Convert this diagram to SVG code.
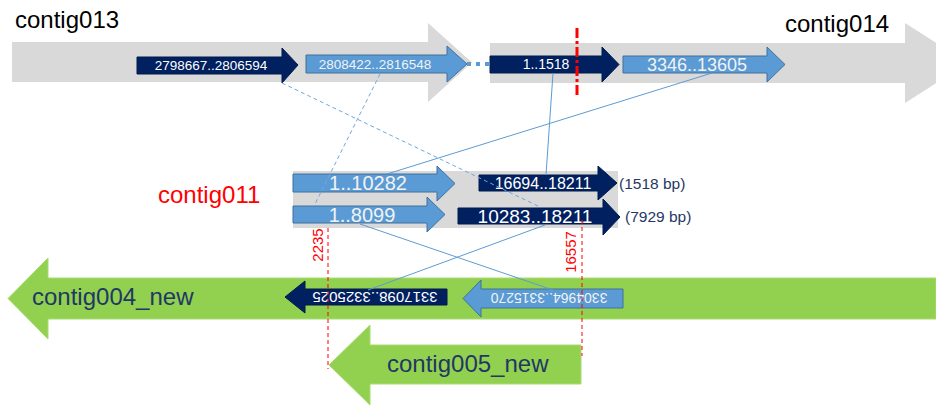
<svg xmlns="http://www.w3.org/2000/svg" width="936" height="406" viewBox="0 0 936 406">
  <style>
    .gray { fill: #d9d9d9; }
    .green { fill: #92d050; stroke: #a9dc72; stroke-width: 1; }
    .dark { fill: #002060; stroke: #001a4d; stroke-width: 1; }
    .light { fill: #5b9bd5; stroke: #41719c; stroke-width: 1; }
    .txt { font-family: "Liberation Sans", Arial, sans-serif; }
    .wt { fill: #ffffff; text-anchor: middle; }
    .lt { fill: #f2f2f2; text-anchor: middle; }
    .name { font-size: 24px; fill: #000000; }
    .navy { fill: #1f3864; }
    .link { stroke: #5b9bd5; stroke-width: 1; fill: none; }
    .dash { stroke: #6fa8dc; stroke-width: 1; fill: none; stroke-dasharray: 4 3; }
    .cut { stroke: #ff0000; stroke-width: 1; fill: none; stroke-dasharray: 4 3; }
  </style>

  <!-- contig013 -->
  <g id="contig013">
    <polygon class="gray" points="12,42 428,42 428,23 472,62.5 428,102 428,82 12,82"/>
    <text class="txt name" x="15" y="28">contig013</text>
  </g>

  <!-- contig014 -->
  <g id="contig014">
    <polygon class="gray" points="490,43 905,43 905,23 968,63 905,103 905,83 490,83"/>
    <text class="txt name" x="785" y="32">contig014</text>
  </g>

  <!-- features on contig013 -->
  <g id="f-2798667">
    <polygon class="dark" points="137,57 282,57 282,48 298,65 282,83 282,74 137,74"/>
    <text class="txt wt" x="211" y="70" font-size="13.5">2798667..2806594</text>
  </g>
  <g id="f-2808422">
    <polygon class="light" points="306,55 447,55 447,46 467,64 447,82 447,73 306,73"/>
    <text class="txt lt" x="375" y="69" font-size="13.5">2808422..2816548</text>
  </g>

  <!-- features on contig014 -->
  <g id="f-1-1518">
    <polygon class="dark" points="490,56 602,56 602,47 619,64.5 602,82 602,73 490,73"/>
    <text class="txt wt" x="546" y="69" font-size="14">1..1518</text>
  </g>
  <g id="f-3346">
    <polygon class="light" points="623,56 767,56 767,47 785,64.5 767,82 767,73 623,73"/>
    <text class="txt lt" x="697" y="71" font-size="18">3346..13605</text>
  </g>

  <!-- contig011 -->
  <g id="contig011">
    <rect class="gray" x="293" y="171" width="325" height="57"/>
    <text class="txt" x="158" y="203" font-size="24" fill="#ff0000">contig011</text>
  </g>
  <g id="f-1-10282">
    <polygon class="light" points="293,174 437,174 437,166 455,183.5 437,201 437,192 293,192"/>
    <text class="txt lt" x="368" y="190" font-size="20">1..10282</text>
  </g>
  <g id="f-1-8099">
    <polygon class="light" points="293,206 427,206 427,197 445,214.5 427,232 427,223 293,223"/>
    <text class="txt lt" x="362" y="222" font-size="20">1..8099</text>
  </g>
  <g id="f-16694">
    <polygon class="dark" points="479,175 598,175 598,166 617,183 598,200 598,191 479,191"/>
    <text class="txt wt" x="543" y="189" font-size="16">16694..18211</text>
    <text class="txt navy" x="619" y="189" font-size="15.5">(1518 bp)</text>
  </g>
  <g id="f-10283">
    <polygon class="dark" points="458,208 603,208 603,199 620,217 603,235 603,224 458,224"/>
    <text class="txt wt" x="535" y="223" font-size="19">10283..18211</text>
    <text class="txt navy" x="625" y="222" font-size="15.5">(7929 bp)</text>
  </g>

  <!-- contig004_new -->
  <g id="contig004_new">
    <polygon class="green" points="936,278 48,278 48,258 8,298.5 48,339 48,319 936,319"/>
    <text class="txt navy" x="32" y="305" font-size="24">contig004_new</text>
  </g>
  <g id="f-3317098">
    <polygon class="dark" points="447,289 305,289 305,281 285,297 305,313 305,305 447,305"/>
    <text class="txt wt" transform="translate(375,297) rotate(180)" y="5" font-size="15">3317098..3325025</text>
  </g>
  <g id="f-3304964">
    <polygon class="light" points="623,289 481,289 481,280 463,298.5 481,317 481,308 623,308"/>
    <text class="txt lt" transform="translate(549,298) rotate(180)" y="5" font-size="14">3304964..3315270</text>
  </g>

  <!-- contig005_new -->
  <g id="contig005_new">
    <polygon class="green" points="581,345 370,345 370,325 329,365 370,405 370,384 581,384"/>
    <text class="txt navy" x="387" y="372" font-size="24">contig005_new</text>
  </g>

  <!-- connectors -->
  <g id="connectors">
    <line x1="467" y1="64" x2="490" y2="64" stroke="#5b9bd5" stroke-width="4" stroke-dasharray="4 5"/>
    <line class="link" x1="553" y1="73" x2="546" y2="175"/>
    <line class="link" x1="712" y1="73" x2="387" y2="174"/>
    <line class="link" x1="360" y1="224" x2="553" y2="290"/>
    <line class="link" x1="545" y1="225" x2="368" y2="290"/>
    <line class="dash" x1="282" y1="83" x2="540" y2="207"/>
    <line class="dash" x1="380" y1="74" x2="314" y2="206"/>
  </g>

  <!-- breakpoints -->
  <g id="breakpoints">
    <line x1="577" y1="28" x2="577" y2="95" stroke="#ff0000" stroke-width="3" stroke-dasharray="10 3 3 3"/>
    <line class="cut" x1="328" y1="228" x2="328" y2="369"/>
    <line class="cut" x1="582" y1="220" x2="582" y2="356"/>
    <text class="txt" transform="translate(323,245) rotate(-90)" text-anchor="middle" font-size="15" fill="#ff0000">2235</text>
    <text class="txt" transform="translate(576,252) rotate(-90)" text-anchor="middle" font-size="15" fill="#ff0000">16557</text>
  </g>
</svg>
